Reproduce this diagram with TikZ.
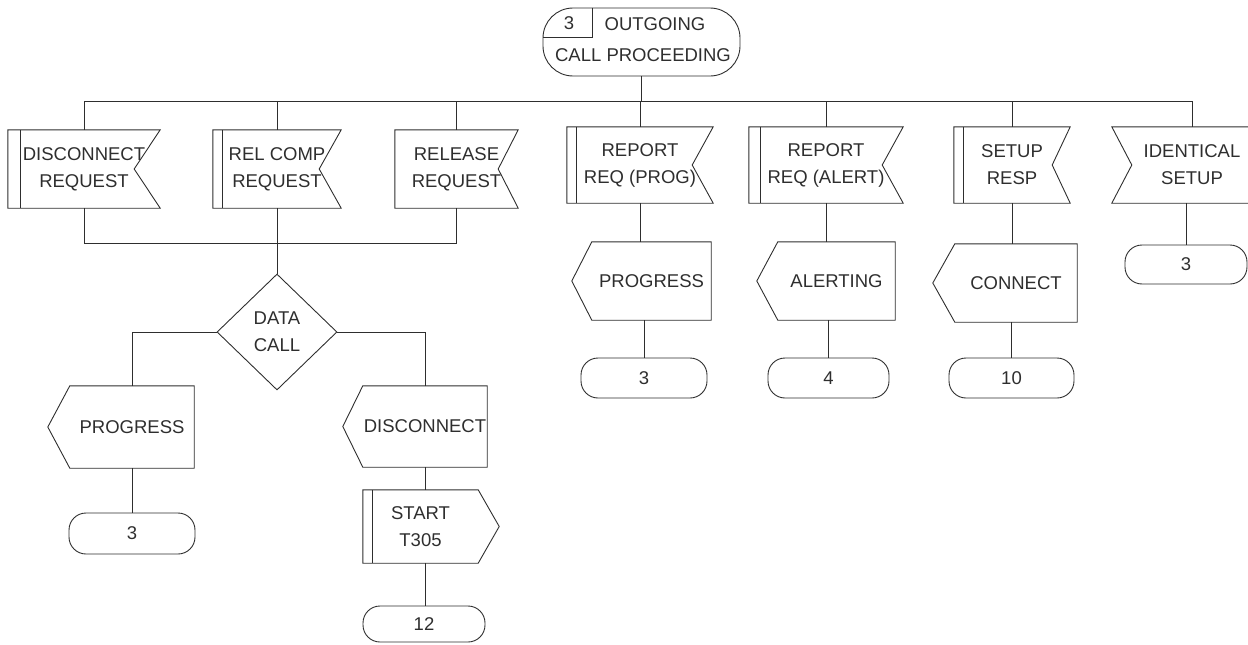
\documentclass[tikz,border=0pt]{standalone}
\usepackage{fontspec}
\newfontfamily\lab{Liberation Sans}
\usetikzlibrary{shapes.geometric}
\definecolor{ink}{gray}{0.18}

% input signal, notch on the right; #2 notch depth, #3 offset of the inner bar (0 = none)
\newcommand\insigR[3]{%
  \draw[ln] (#1.north west) -- (#1.north east) -- ([xshift=-#2pt]#1.east)
    -- (#1.south east) -- (#1.south west) -- cycle;
  \ifnum#3>0 \draw[ln] ([xshift=#3pt]#1.north west) -- ([xshift=#3pt]#1.south west);\fi}
% input signal, notch on the left
\newcommand\insigL[2]{%
  \draw[ln] ([xshift=-#2pt]#1.north west) -- (#1.north east) -- (#1.south east)
    -- ([xshift=-#2pt]#1.south west) -- (#1.west) -- cycle;}
% output signal, point on the left
\newcommand\outsig[2]{%
  \draw[ln] ([xshift=-#2pt]#1.west) -- (#1.north west) -- (#1.north east)
    -- (#1.south east) -- (#1.south west) -- cycle;}
% timer task, point on the right, inner bar on the left
\newcommand\tasksig[3]{%
  \draw[ln] (#1.north west) -- (#1.north east) -- ([xshift=#2pt]#1.east)
    -- (#1.south east) -- (#1.south west) -- cycle;
  \draw[ln] ([xshift=#3pt]#1.north west) -- ([xshift=#3pt]#1.south west);}

\begin{document}
\begin{tikzpicture}[x=1pt,y=-1pt,
  ln/.style={draw=ink, line width=0.9pt},
  txt/.style={font=\lab\fontsize{18.5}{27}\selectfont, text=ink, align=center, inner sep=0pt},
  sig/.style={txt, rectangle},
  term/.style={txt, rectangle, draw=ink, line width=0.9pt, rounded corners=17pt},
  dec/.style={txt, diamond, draw=ink, line width=0.9pt, minimum width=120pt, minimum height=116pt}
]
\useasboundingbox (0,0) rectangle (1248,645);

% ---- state
\node[term, rounded corners=30pt, minimum width=197pt, minimum height=68pt] (st) at (641.5,42) {};
\draw[ln] ([xshift=50pt]st.north west) -- ([xshift=50pt,yshift=-30pt]st.north west)
  -- ([yshift=-30pt]st.north west);
\node[txt] (stnum) at (569,23) {3};
\node[txt] (stA) at (655,24) {OUTGOING};
\node[txt] (stB) at (643,55) {CALL PROCEEDING};

% ---- inputs
\node[sig, minimum width=152pt, minimum height=78pt] (dreq) at (84,169) {DISCONNECT\\REQUEST};
\node[sig, minimum width=128pt, minimum height=78pt] (rcreq) at (277,169) {REL COMP\\REQUEST};
\node[sig, minimum width=123pt, minimum height=78pt] (rel) at (456.5,169) {RELEASE\\REQUEST};
\node[sig, minimum width=146pt, minimum height=76pt] (rprog) at (640,165) {REPORT\\REQ (PROG)};
\node[sig, minimum width=154pt, minimum height=76pt] (ralert) at (826,165) {REPORT\\REQ (ALERT)};
\node[sig, minimum width=116pt, minimum height=76pt] (setup) at (1012,165) {SETUP\\RESP};
\node[sig, minimum width=120pt, minimum height=76pt] (idset) at (1192,165) {IDENTICAL\\SETUP};
\insigR{dreq}{26}{13}
\insigR{rcreq}{22}{10}
\insigR{rel}{20}{0}
\insigR{rprog}{21}{10}
\insigR{ralert}{21}{12}
\insigR{setup}{18}{10}
\insigL{idset}{20}

% ---- bus from the state to the inputs
\coordinate (bus) at (0,101);
\draw[ln] (st.south) -- (st.south |- bus);
\draw[ln] (dreq.north) -- (dreq.north |- bus) -- (idset.north |- bus) -- (idset.north);
\foreach \n in {rcreq,rel,rprog,ralert,setup}
  \draw[ln] (\n.north) -- (\n.north |- bus);

% ---- release branch
\coordinate (bus2) at (0,243);
\draw[ln] (dreq.south) -- (dreq.south |- bus2) -- (rel.south |- bus2) -- (rel.south);
\node[dec] (dc) at (277,332) {DATA\\CALL};
\draw[ln] (rcreq.south) -- (dc.north);

\node[sig, minimum width=124pt, minimum height=82pt] (prog1) at (132,427) {PROGRESS};
\outsig{prog1}{22}
\node[term, minimum width=126pt, minimum height=41pt] (s3a) at (132,533.5) {3};
\draw[ln] (dc.west) -| (prog1.north);
\draw[ln] (prog1.south) -- (s3a.north);

\node[sig, minimum width=124pt, minimum height=81pt] (disc) at (425,426.5) {DISCONNECT};
\outsig{disc}{20}
\node[sig, minimum width=115pt, minimum height=73pt] (start) at (420.5,526.5) {START\\T305};
\tasksig{start}{21}{10}
\node[term, minimum width=122pt, minimum height=36pt] (s12) at (424,624) {12};
\draw[ln] (dc.east) -| (disc.north);
\draw[ln] (disc.south) -- (disc.south |- start.north);
\draw[ln] (start.south -| disc.south) -- (s12.north -| disc.south);

% ---- report / setup branches
\node[sig, minimum width=119pt, minimum height=78pt] (prog2) at (651.5,281) {PROGRESS};
\node[sig, minimum width=117pt, minimum height=78pt] (alert) at (836.5,281) {ALERTING};
\node[sig, minimum width=122pt, minimum height=78pt] (conn) at (1016,283) {CONNECT};
\outsig{prog2}{20}
\outsig{alert}{21}
\outsig{conn}{22}
\node[term, minimum width=126pt, minimum height=40pt] (s3b) at (644,378) {3};
\node[term, minimum width=121pt, minimum height=40pt] (s4) at (828.5,378) {4};
\node[term, minimum width=125pt, minimum height=40pt] (s10) at (1011.5,378) {10};
\node[term, minimum width=122pt, minimum height=39pt] (s3c) at (1186,264.5) {3};

\draw[ln] (rprog.south) -- (rprog.south |- prog2.north);
\draw[ln] (prog2.south -| s3b.north) -- (s3b.north);
\draw[ln] (ralert.south) -- (ralert.south |- alert.north);
\draw[ln] (alert.south -| s4.north) -- (s4.north);
\draw[ln] (setup.south) -- (setup.south |- conn.north);
\draw[ln] (conn.south -| s10.north) -- (s10.north);
\draw[ln] (idset.south -| s3c.north) -- (s3c.north);
\end{tikzpicture}
\end{document}
